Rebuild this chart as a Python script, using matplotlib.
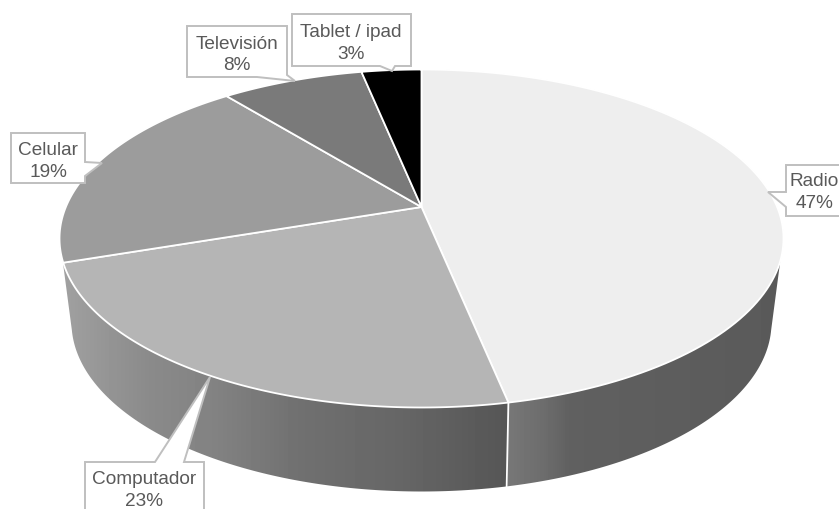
import numpy as np
import matplotlib
matplotlib.use("Agg")
import matplotlib.pyplot as plt
from matplotlib.patches import Polygon, PathPatch
from matplotlib.path import Path

plt.rcParams['font.family'] = ['Liberation Sans', 'DejaVu Sans']

categories = ["Radio", "Computador", "Celular", "Televisión", "Tablet / ipad"]
values = [46.8, 23.0, 19.4, 7.6, 3.2]
slice_colors = ["#eeeeee", "#b5b5b5", "#9c9c9c", "#7a7a7a", "#000000"]

# geometry of the perspective pie, in figure pixels
CX, CY, RX, RY = 421.5, 239.5, 362.0, 169.0
APEX_Y = 208.0
BX, BY, BRX, BRY = 421.5, 323.5, 350.0, 169.0
P = (CY - APEX_Y) / RY


def project(frac):
    """Map a cumulative fraction of the pie (clockwise from top) on to the ellipse."""
    t = 2 * np.pi * np.asarray(frac, dtype=float)
    x, y = np.sin(t), np.cos(t)
    d = 1 + P * y
    xp = x * np.sqrt(1 - P ** 2) / d
    yp = (y + P) / d
    return CX + RX * xp, CY - RY * yp


fig = plt.figure(figsize=(8.39, 5.10), dpi=100, facecolor="white")
ax = fig.add_axes([0, 0, 1, 1])
ax.set_axis_off()

# ---- side wall ----
fr = np.array(values, dtype=float) / sum(values)
cum = np.concatenate([[0], np.cumsum(fr)])
bx_top, by_top = project(cum[1])

phi_top = np.linspace(np.pi - np.arcsin((262 - CY) / RY), np.arcsin((262 - CY) / RY), 200)
top_x = CX + RX * np.cos(phi_top)
top_y = CY + RY * np.sin(phi_top)
phi_bot = np.linspace(np.arcsin((331 - BY) / BRY), np.pi - np.arcsin((331 - BY) / BRY), 200)
bot_x = BX + BRX * np.cos(phi_bot)
bot_y = BY + BRY * np.sin(phi_bot)
wall = np.column_stack([np.r_[top_x, bot_x], np.r_[top_y, bot_y]])

xs = np.arange(50, 800)
left_shade = np.interp(xs, [64, 110, 150, 215, 300, 400, 505], [160, 148, 138, 130, 112, 102, 86])
right_shade = np.interp(xs, [505, 545, 570, 783], [120, 108, 96, 90])
shade = np.where(xs < bx_top - 1, left_shade, right_shade)
img = ax.imshow(shade[None, :], cmap="gray", vmin=0, vmax=255, aspect="auto",
                extent=(50, 800, 510, 240), interpolation="nearest", zorder=1)
clip = PathPatch(Path(np.vstack([wall, wall[:1]]), closed=True), transform=ax.transData,
                 fc="none", ec="none")
ax.add_patch(clip)
img.set_clip_path(clip)

# seam in the wall between the two visible slices
dx = bx_top - CX
b_dx = dx * 0.98
ax.plot([bx_top, BX + b_dx], [by_top, BY + BRY * np.sqrt(1 - (b_dx / BRX) ** 2)],
        color="white", lw=1.3, zorder=1.5)

# ---- top face ----
for i, col in enumerate(slice_colors):
    f = np.linspace(cum[i], cum[i + 1], 120)
    ex, ey = project(f)
    pts = np.column_stack([np.r_[CX, ex], np.r_[APEX_Y, ey]])
    ax.add_patch(Polygon(pts, closed=True, fc=col, ec="white", lw=1.3, zorder=2,
                         joinstyle="round"))

# ---- callout labels ----
boxes = {
    "Radio": ((786, 166, 860, 217), [(768, 193), (786, 193), (786, 208)], (814.5, 192.5), "R"),
    "Computador": ((85, 463, 204, 520), [(155, 463), (210, 378), (184, 463)], (144.5, 490.5), "T"),
    "Celular": ((11, 134, 85, 184), [(85, 163), (102, 164), (85, 177)], (48, 161.5), "R"),
    "Televisión": ((187, 27, 287, 78), [(257, 78), (295, 82), (287, 76)], (237, 55), "B"),
    "Tablet / ipad": ((292, 15, 411, 67), [(380, 67), (392, 72), (395, 67)], (351, 43.5), "B"),
}

for name, v in zip(categories, values):
    (x0, y0, x1, y1), ptr, tpos, side = boxes[name]
    if side == "R" and name == "Radio":
        outline = [(x0, y0), (x1, y0), (x1, y1), (x0, y1), ptr[2], ptr[0], ptr[1]]
    elif side == "R":
        outline = [(x0, y0), (x1, y0), ptr[0], ptr[1], ptr[2], (x1, y1), (x0, y1)]
    elif side == "T":
        outline = [(x0, y0), ptr[0], ptr[1], ptr[2], (x1, y0), (x1, y1), (x0, y1)]
    elif name == "Televisión":
        outline = [(x0, y0), (x1, y0), ptr[2], ptr[1], ptr[0], (x0, y1)]
    else:
        outline = [(x0, y0), (x1, y0), (x1, y1), ptr[2], ptr[1], ptr[0], (x0, y1)]
    ax.add_patch(Polygon(outline, closed=True, fc="white", ec="#bfbfbf", lw=1.4, zorder=3))
    ax.text(tpos[0], tpos[1], f"{name}\n{v:.0f}%", ha="center", va="center", fontsize=13.7,
            color="#595959", linespacing=1.36, zorder=4)

ax.set_xlim(0, 839)
ax.set_ylim(510, 0)

fig.savefig("out.png", dpi=100, facecolor="white")
